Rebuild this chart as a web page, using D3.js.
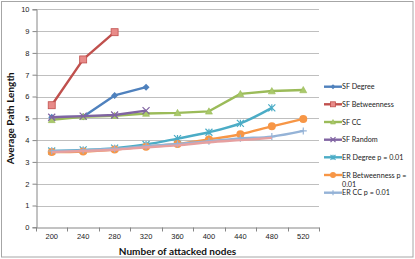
<!DOCTYPE html>
<html>
<head>
<meta charset="utf-8">
<script src="https://cdn.jsdelivr.net/npm/d3@7"></script>
<style>
  html, body { margin: 0; padding: 0; background: #fff; }
  svg { display: block; font-family: Lato, "Open Sans", sans-serif; }
</style>
</head>
<body>
<div id="chart"></div>
<script>
const nodes = [200, 240, 280, 320, 360, 400, 440, 480, 520]
const yTicks = [0, 1, 2, 3, 4, 5, 6, 7, 8, 9, 10]

// values per series, null where the series stops
const sfDegree = [5.05, 5.07, 6.05, 6.43, null, null, null, null, null]
const sfBetweenness = [5.6, 7.7, 8.95, null, null, null, null, null, null]
const sfCC = [4.93, 5.07, 5.12, 5.22, 5.25, 5.32, 6.12, 6.25, 6.3]
const sfRandom = [5.05, 5.1, 5.15, 5.35, null, null, null, null, null]
const erDegree = [3.5, 3.55, 3.63, 3.8, 4.07, 4.36, 4.77, 5.48, null]
const erBetweenness = [3.45, 3.48, 3.57, 3.7, 3.82, 4.03, 4.27, 4.63, 4.97]
const erCC = [3.5, 3.53, 3.6, 3.72, 3.82, 3.95, 4.08, 4.16, 4.42]
const erRandom = [3.45, 3.5, 3.56, 3.67, 3.76, 3.9, 4.0, 4.1, null]

const series = [
  { name: 'SF Degree', values: sfDegree, color: '#4f81bd', marker: 'diamond', legend: true },
  { name: 'SF Betweenness', values: sfBetweenness, color: '#c0504d', marker: 'square', legend: true },
  { name: 'SF CC', values: sfCC, color: '#9bbb59', marker: 'triangle', legend: true },
  { name: 'SF Random', values: sfRandom, color: '#8064a2', marker: 'x', legend: true },
  { name: 'ER Degree p = 0.01', values: erDegree, color: '#4bacc6', marker: 'star', legend: true, smooth: true },
  { name: 'ER Betweenness p = 0.01', values: erBetweenness, color: '#f79646', marker: 'circle', legend: true, smooth: true },
  { name: 'ER CC p = 0.01', values: erCC, color: '#95b3d7', marker: 'plus', legend: true, smooth: true },
  { name: 'ER Random p = 0.01', values: erRandom, color: '#e6a0a0', marker: 'none', legend: false, smooth: true },
]

const width = 415, height = 259
const margin = { left: 36, right: 96, top: 9.3, bottom: 31.7 }

const svg = d3.select('#chart').append('svg')
  .attr('width', width)
  .attr('height', height)

svg.append('rect')
  .attr('x', 1.5).attr('y', 1.5)
  .attr('width', 411.5).attr('height', 255.5)
  .attr('fill', '#fff')
  .attr('stroke', '#a6a6a6')

const x = d3.scaleBand()
  .domain(nodes)
  .range([margin.left, width - margin.right])

const y = d3.scaleLinear()
  .domain([0, 10])
  .range([height - margin.bottom, margin.top])

// gridlines
svg.append('g')
  .selectAll('line')
  .data(yTicks.filter(d => d > 0))
  .join('line')
  .attr('x1', margin.left)
  .attr('x2', width - margin.right)
  .attr('y1', d => Math.round(y(d)) + 0.5)
  .attr('y2', d => Math.round(y(d)) + 0.5)
  .attr('stroke', '#bfbfbf')
  .attr('stroke-width', 1)

// y axis
const yAxis = svg.append('g')
  .attr('transform', `translate(${margin.left + 0.5},0)`)
  .call(d3.axisLeft(y).tickValues(yTicks).tickSize(4).tickPadding(3))
yAxis.select('.domain').attr('stroke', '#868686')
yAxis.selectAll('.tick line').attr('stroke', '#868686')
yAxis.selectAll('text').attr('font-size', 7.5).attr('fill', '#222')

// x axis, ticks at band edges
const xAxis = svg.append('g')
  .attr('transform', `translate(0,${Math.round(y(0)) + 0.5})`)
  .call(d3.axisBottom(x).tickSize(0).tickPadding(6))
xAxis.select('.domain').attr('stroke', '#868686')
xAxis.selectAll('text').attr('font-size', 7.5).attr('fill', '#222')
xAxis.append('g')
  .selectAll('line')
  .data(nodes.map(d => x(d)).concat([x.range()[1]]))
  .join('line')
  .attr('x1', d => Math.round(d) + 0.5)
  .attr('x2', d => Math.round(d) + 0.5)
  .attr('y1', 0)
  .attr('y2', 4)
  .attr('stroke', '#868686')

// axis titles
svg.append('text')
  .attr('transform', `translate(14,${(margin.top + height - margin.bottom) / 2}) rotate(-90)`)
  .attr('text-anchor', 'middle')
  .attr('font-size', 10)
  .attr('font-weight', 700)
  .attr('fill', '#111')
  .text('Average Path Length')

svg.append('text')
  .attr('x', (margin.left + width - margin.right) / 2)
  .attr('y', 255)
  .attr('text-anchor', 'middle')
  .attr('font-size', 10)
  .attr('font-weight', 700)
  .attr('fill', '#111')
  .text('Number of attacked nodes')

const cx = d => x(d) + x.bandwidth() / 2

function drawMarker(g, type, color, size) {
  const s = size / 2
  if (type === 'diamond') {
    g.append('path').attr('d', `M0,${-s}L${s},0L0,${s}L${-s},0Z`).attr('fill', color)
  } else if (type === 'square') {
    g.append('rect').attr('x', -s).attr('y', -s).attr('width', size).attr('height', size)
      .attr('fill', '#e88b89').attr('stroke', color).attr('stroke-width', 0.8)
  } else if (type === 'triangle') {
    g.append('path').attr('d', `M0,${-s}L${s},${s * 0.8}L${-s},${s * 0.8}Z`).attr('fill', '#a9c96a')
      .attr('stroke', color).attr('stroke-width', 0.6)
  } else if (type === 'x') {
    g.append('path').attr('d', `M${-s},${-s}L${s},${s}M${-s},${s}L${s},${-s}`)
      .attr('stroke', color).attr('stroke-width', 1.2)
  } else if (type === 'star') {
    g.append('path').attr('d', `M${-s},${-s}L${s},${s}M${-s},${s}L${s},${-s}M0,${-s}L0,${s}`)
      .attr('stroke', color).attr('stroke-width', 1.2)
  } else if (type === 'circle') {
    g.append('circle').attr('r', s).attr('fill', color)
  } else if (type === 'plus') {
    g.append('path').attr('d', `M${-s},0L${s},0M0,${-s}L0,${s}`)
      .attr('stroke', color).attr('stroke-width', 1.2)
  }
}

// lines
const plot = svg.append('g')
series.forEach(s => {
  const pts = nodes.map((n, i) => ({ n, v: s.values[i] })).filter(p => p.v != null)
  const line = d3.line()
    .x(d => cx(d.n))
    .y(d => y(d.v))
    .curve(s.smooth ? d3.curveCatmullRom.alpha(0.5) : d3.curveLinear)
  plot.append('path')
    .datum(pts)
    .attr('d', line)
    .attr('fill', 'none')
    .attr('stroke', s.color)
    .attr('stroke-width', 2.4)
    .attr('stroke-linejoin', 'round')
  const mk = plot.append('g')
  pts.forEach(p => {
    const g = mk.append('g').attr('transform', `translate(${cx(p.n)},${y(p.v)})`)
    drawMarker(g, s.marker, s.color, s.marker === 'circle' ? 8 : 7)
  })
})

// legend
const legend = svg.append('g')
const legendY = [86.7, 104.3, 122, 139.7, 157.3, 175, 192.7]
series.filter(s => s.legend).forEach((s, i) => {
  const g = legend.append('g').attr('transform', `translate(324,${legendY[i]})`)
  g.append('line').attr('x1', 0).attr('x2', 18).attr('y1', 0).attr('y2', 0)
    .attr('stroke', s.color).attr('stroke-width', 2.4)
  const m = g.append('g').attr('transform', 'translate(9,0)')
  drawMarker(m, s.marker, s.color, s.marker === 'circle' ? 6 : 5)
  const t = g.append('text')
    .attr('x', 18)
    .attr('y', 2.6)
    .attr('font-size', 7.2)
    .attr('fill', '#222')
  if (s.name === 'ER Betweenness p = 0.01') {
    t.text('ER Betweenness p =')
    g.append('text').attr('x', 18).attr('y', 11.6).attr('font-size', 7.2).attr('fill', '#222').text('0.01')
  } else {
    t.text(s.name)
  }
})
</script>
</body>
</html>
